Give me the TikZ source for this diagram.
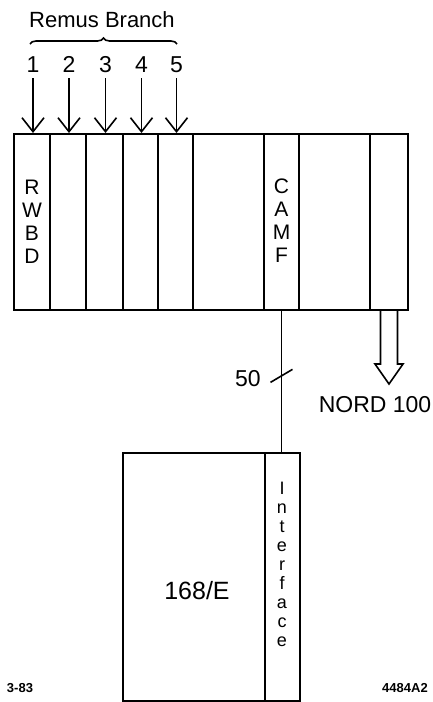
\documentclass[tikz,border=0pt]{standalone}
\usepackage{fontspec}
\setmainfont{Liberation Sans}
\usetikzlibrary{arrows.meta,positioning,calc,decorations.pathreplacing}

\begin{document}
\begin{tikzpicture}[x=1pt,y=-1pt,
    slot/.style={draw,line width=2pt,minimum height=176pt,inner sep=0pt,anchor=north west},
    box/.style={draw,line width=2pt,minimum height=248pt,inner sep=0pt,anchor=north west},
    lbl/.style={font=\fontsize{23}{23}\selectfont},
    vert/.style={align=center,font=\fontsize{21}{23}\selectfont},
    feed/.style={-{Straight Barb[length=14pt,width=22pt,line width=1.6pt]},line width=1.6pt},
    wire/.style={line width=1.6pt}]
    \useasboundingbox (0,0) rectangle (432,702);

    % Crate slots
    \foreach \n/\x/\w in {1/13/36,2/49/36,3/85/37,4/122/35,5/157/35,6/192/71,7/263/35,8/298/71,9/369/38}
        \node[slot,minimum width=\w pt] (s\n) at (\x,133) {};
    \node[vert] (rwbd) at (s1) {R\\W\\B\\D};
    \node[vert] (camf) at ($(s7)+(0,-1)$) {C\\A\\M\\F};

    % Remus branch inputs
    \node[font=\fontsize{22}{22}\selectfont] (remus) at (102,20) {Remus Branch};
    \coordinate (bl) at (30,44);
    \coordinate (br) at (177,44);
    \draw[decorate,decoration={brace,amplitude=6pt},line width=1.6pt] (bl) -- (br);
    \foreach \i in {1,...,5} {
        \node[lbl,anchor=base] (b\i) at ($(s\i.north)+(1,-61)$) {\i};
        \draw[feed] ($(s\i.north)+(1,-55)$) -- ($(s\i.north)+(1,0)$);
    }

    % 168/E with interface
    \node[box,minimum width=142pt] (emu) at (122,452) {};
    \node[box,minimum width=35pt] (iface) at (264,452) {};
    \node[font=\fontsize{25}{25}\selectfont] (emulbl) at (197,591) {168/E};
    \node[align=center,font=\fontsize{18}{19}\selectfont] (ifacelbl) at (282,564) {I\\n\\t\\e\\r\\f\\a\\c\\e};

    % CAMF bus
    \draw[wire] (s7.south) -- (s7.south |- iface.north);
    \coordinate (tick) at ($(s7.south)!0.46!(s7.south |- iface.north)$);
    \draw[wire] ($(tick)+(-11,6.5)$) -- ($(tick)+(11,-6.5)$);
    \node[lbl] (bus) at (248,379) {50};

    % NORD output
    \draw[wire] ($(s9.south)+(-8.5,0)$) -- ++(0,53) -- ++(-5.5,0) -- ++(14,20)
        -- ++(14,-20) -- ++(-5.5,0) -- ++(0,-53);
    \node[lbl] (nord) at (375,405) {NORD 100};

    % Figure marks
    \node[font=\bfseries\fontsize{13}{13}\selectfont] (date) at (20,688) {3-83};
    \node[font=\bfseries\fontsize{13}{13}\selectfont] (fig) at (405,688) {4484A2};
\end{tikzpicture}
\end{document}
